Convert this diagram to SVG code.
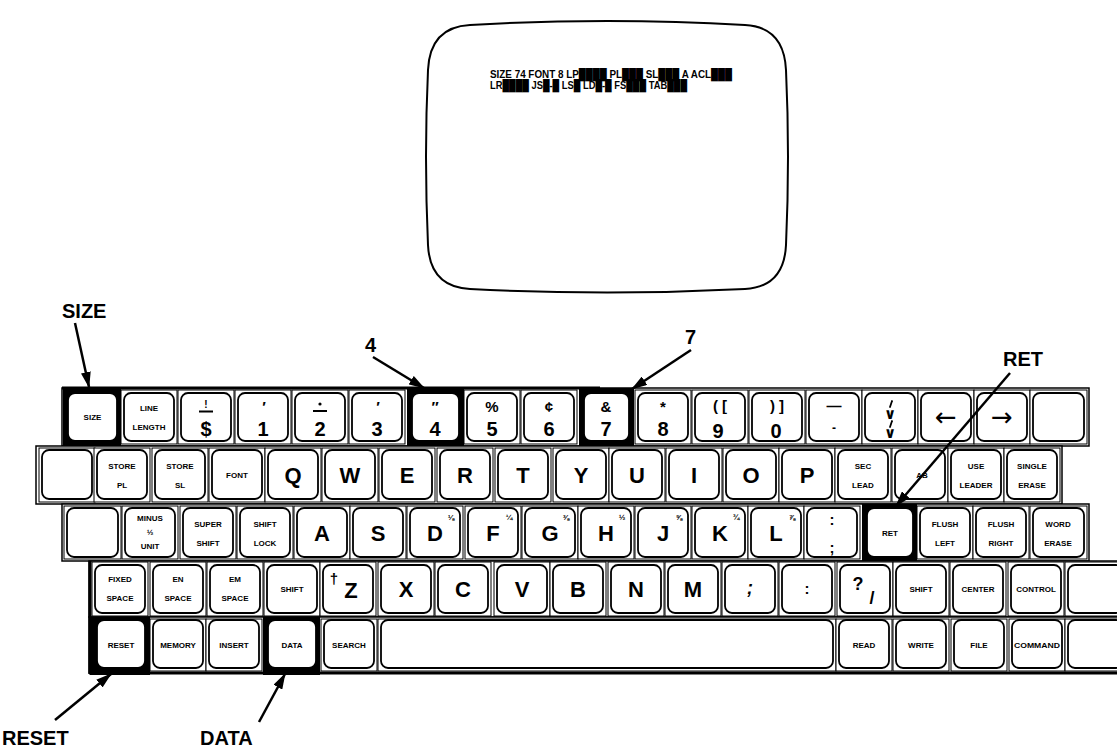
<svg xmlns="http://www.w3.org/2000/svg" width="1117" height="751" viewBox="0 0 1117 751">
<defs>
<marker id="ah" markerUnits="userSpaceOnUse" markerWidth="16" markerHeight="10" refX="15" refY="5" orient="auto"><path d="M0,0 L16,5 L0,10 Z" fill="#000"/></marker>
<style>
.w{fill:#fff;stroke:#000;stroke-width:1}
.c{fill:#fff;stroke:#000;stroke-width:1.8}
.k{fill:#000}
.band{fill:#fff;stroke:#000;stroke-width:1.5}
.t{font-family:"Liberation Sans","DejaVu Sans",sans-serif;font-weight:bold;text-anchor:middle;fill:#000}
.s{font-size:8px}
.L{font-size:22px}
.D{font-size:20px}
.m{font-size:15px}
.f{font-size:8px}
.ar{font-family:"DejaVu Sans",sans-serif;font-size:26px;text-anchor:middle;fill:#000}
.ann{font-family:"Liberation Sans",Arial,sans-serif;font-weight:bold;font-size:20px;fill:#000}
.lead{stroke:#000;stroke-width:2.5;fill:none;marker-end:url(#ah)}
.scr{font-family:"Liberation Sans","DejaVu Sans",sans-serif;font-weight:bold;font-size:11px;fill:#000}
.tick{stroke:#000;stroke-width:1.8;stroke-linecap:round}
</style>
</defs>
<rect x="0" y="0" width="1117" height="751" fill="#fff"/>

<g id="screen">
<path d="M470,25 Q607,17 745,25 Q784,27 786,70 Q790,156 786,245 Q784,287 745,289 Q607,296 470,289 Q430,287 428,245 Q424,156 428,70 Q430,27 470,25 Z" fill="#fff" stroke="#000" stroke-width="2"/>
<text class="scr" x="490" y="78" textLength="242" lengthAdjust="spacingAndGlyphs">SIZE 74 FONT 8 LP████ PL███ SL███ A ACL███</text>
<text class="scr" x="490" y="89" textLength="197" lengthAdjust="spacingAndGlyphs">LR████ JS█-█ LS█ LD█-█ FS███ TAB███</text>
</g>

<g id="bands">
<rect class="band" x="62" y="388" width="1027" height="58"/>
<line x1="62" y1="388" x2="600" y2="388" stroke="#000" stroke-width="3"/>
<rect class="band" x="36" y="446" width="1026" height="58"/>
<rect class="band" x="62" y="504" width="1027" height="57"/>
<rect class="band" x="89" y="561" width="1040" height="56"/>
<rect class="band" x="89" y="617" width="1040" height="56"/>
<line x1="89" y1="673" x2="1117" y2="673" stroke="#000" stroke-width="3"/>
<line x1="90" y1="561" x2="90" y2="674" stroke="#000" stroke-width="3"/>
</g>

<!-- Row 1 -->
<g id="k-size"><rect class="k" x="63" y="388" width="58" height="58"/><rect class="c" x="68" y="393" width="49" height="48" rx="7"/><text class="t s" x="92.5" y="420">SIZE</text></g>
<g id="k-linelength"><rect class="w" x="121" y="390" width="56" height="54"/><rect class="c" x="124" y="393" width="50" height="48" rx="7"/><text class="t s" x="149" y="411">LINE</text><text class="t s" x="149" y="430">LENGTH</text></g>
<g id="k-dollar"><rect class="w" x="178" y="390" width="56" height="54"/><rect class="c" x="181" y="393" width="50" height="48" rx="7"/><text class="t" style="font-size:10px" x="206" y="408">!</text><line x1="199" y1="411.5" x2="213" y2="411.5" stroke="#000" stroke-width="2"/><text class="t D" x="206" y="436">$</text></g>
<g id="k-1"><rect class="w" x="235" y="390" width="56" height="54"/><rect class="c" x="238" y="393" width="50" height="48" rx="7"/><text class="t m" x="264" y="412">′</text><text class="t D" x="263" y="436">1</text></g>
<g id="k-2"><rect class="w" x="292" y="390" width="56" height="54"/><rect class="c" x="295" y="393" width="50" height="48" rx="7"/><circle cx="320" cy="404" r="1.6" fill="#000"/><line x1="313" y1="411" x2="327" y2="411" stroke="#000" stroke-width="2"/><text class="t D" x="320" y="436">2</text></g>
<g id="k-3"><rect class="w" x="349" y="390" width="56" height="54"/><rect class="c" x="352" y="393" width="50" height="48" rx="7"/><text class="t m" x="378" y="412">′</text><text class="t D" x="377" y="436">3</text></g>
<g id="k-4"><rect class="k" x="407" y="388" width="57" height="58"/><rect class="c" x="412" y="393" width="47" height="48" rx="7"/><text class="t m" x="435" y="412">″</text><text class="t D" x="435" y="436">4</text></g>
<g id="k-5"><rect class="w" x="464" y="390" width="56" height="54"/><rect class="c" x="467" y="393" width="50" height="48" rx="7"/><text class="t m" x="492" y="412">%</text><text class="t D" x="492" y="436">5</text></g>
<g id="k-6"><rect class="w" x="521" y="390" width="56" height="54"/><rect class="c" x="524" y="393" width="50" height="48" rx="7"/><text class="t m" x="549" y="412">¢</text><text class="t D" x="549" y="436">6</text></g>
<g id="k-7"><rect class="k" x="579" y="388" width="55" height="58"/><rect class="c" x="584" y="393" width="45" height="48" rx="7"/><text class="t m" x="606" y="412">&amp;</text><text class="t D" x="606" y="436">7</text></g>
<g id="k-8"><rect class="w" x="635" y="390" width="56" height="54"/><rect class="c" x="638" y="393" width="50" height="48" rx="7"/><text class="t m" x="663" y="412">*</text><text class="t D" x="663" y="436">8</text></g>
<g id="k-9"><rect class="w" x="692" y="390" width="56" height="54"/><rect class="c" x="695" y="393" width="50" height="48" rx="7"/><text class="t m" x="720" y="411">( [</text><text class="t D" x="718" y="438">9</text></g>
<g id="k-0"><rect class="w" x="749" y="390" width="56" height="54"/><rect class="c" x="752" y="393" width="50" height="48" rx="7"/><text class="t m" x="777" y="411">) ]</text><text class="t D" x="776" y="438">0</text></g>
<g id="k-minus"><rect class="w" x="806" y="390" width="56" height="54"/><rect class="c" x="809" y="393" width="50" height="48" rx="7"/><text class="t m" x="834" y="411">—</text><text class="t" style="font-size:12px" x="834" y="432">-</text></g>
<g id="k-down"><rect class="w" x="862" y="390" width="56" height="54"/><rect class="c" x="865" y="393" width="50" height="48" rx="7"/><line class="tick" x1="892" y1="401" x2="890" y2="407"/><text class="t m" x="890" y="419">∨</text><line class="tick" x1="892" y1="421" x2="890" y2="427"/><text class="t m" x="890" y="438">∨</text></g>
<g id="k-left"><rect class="w" x="918" y="390" width="56" height="54"/><rect class="c" x="921" y="393" width="50" height="48" rx="7"/><text class="ar" x="946" y="426">←</text></g>
<g id="k-right"><rect class="w" x="974" y="390" width="56" height="54"/><rect class="c" x="977" y="393" width="50" height="48" rx="7"/><text class="ar" x="1002" y="426">→</text></g>
<g id="k-r1blank"><rect class="w" x="1030" y="390" width="57" height="54"/><rect class="c" x="1033" y="393" width="51" height="48" rx="7"/></g>

<!-- Row 2 -->
<g id="k-r2blank"><rect class="w" x="39" y="448" width="56" height="54"/><rect class="c" x="42" y="450" width="50" height="49" rx="7"/></g>
<g id="k-storepl"><rect class="w" x="94" y="448" width="56" height="54"/><rect class="c" x="97" y="450" width="50" height="49" rx="7"/><text class="t s" x="122" y="468.5">STORE</text><text class="t s" x="122" y="488">PL</text></g>
<g id="k-storesl"><rect class="w" x="152" y="448" width="56" height="54"/><rect class="c" x="155" y="450" width="50" height="49" rx="7"/><text class="t s" x="180" y="468.5">STORE</text><text class="t s" x="180" y="488">SL</text></g>
<g id="k-font"><rect class="w" x="209" y="448" width="56" height="54"/><rect class="c" x="212" y="450" width="50" height="49" rx="7"/><text class="t s" x="237" y="477.5">FONT</text></g>
<g id="k-q"><rect class="w" x="265" y="448" width="56" height="54"/><rect class="c" x="268" y="450" width="50" height="49" rx="7"/><text class="t L" x="293" y="482.5">Q</text></g>
<g id="k-w"><rect class="w" x="322" y="448" width="56" height="54"/><rect class="c" x="325" y="450" width="50" height="49" rx="7"/><text class="t L" x="350" y="482.5">W</text></g>
<g id="k-e"><rect class="w" x="379" y="448" width="56" height="54"/><rect class="c" x="382" y="450" width="50" height="49" rx="7"/><text class="t L" x="407" y="482.5">E</text></g>
<g id="k-r"><rect class="w" x="437" y="448" width="56" height="54"/><rect class="c" x="440" y="450" width="50" height="49" rx="7"/><text class="t L" x="465" y="482.5">R</text></g>
<g id="k-t"><rect class="w" x="495" y="448" width="56" height="54"/><rect class="c" x="498" y="450" width="50" height="49" rx="7"/><text class="t L" x="523" y="482.5">T</text></g>
<g id="k-y"><rect class="w" x="553" y="448" width="56" height="54"/><rect class="c" x="556" y="450" width="50" height="49" rx="7"/><text class="t L" x="581" y="482.5">Y</text></g>
<g id="k-u"><rect class="w" x="609" y="448" width="56" height="54"/><rect class="c" x="612" y="450" width="50" height="49" rx="7"/><text class="t L" x="637" y="482.5">U</text></g>
<g id="k-i"><rect class="w" x="666" y="448" width="56" height="54"/><rect class="c" x="669" y="450" width="50" height="49" rx="7"/><text class="t L" x="694" y="482.5">I</text></g>
<g id="k-o"><rect class="w" x="723" y="448" width="56" height="54"/><rect class="c" x="726" y="450" width="50" height="49" rx="7"/><text class="t L" x="751" y="482.5">O</text></g>
<g id="k-p"><rect class="w" x="779" y="448" width="56" height="54"/><rect class="c" x="782" y="450" width="50" height="49" rx="7"/><text class="t L" x="807" y="482.5">P</text></g>
<g id="k-seclead"><rect class="w" x="835" y="448" width="56" height="54"/><rect class="c" x="838" y="450" width="50" height="49" rx="7"/><text class="t s" x="863" y="468.5">SEC</text><text class="t s" x="863" y="488">LEAD</text></g>
<g id="k-tab"><rect class="w" x="892" y="448" width="56" height="54"/><rect class="c" x="895" y="450" width="50" height="49" rx="7"/><text class="t s" x="922" y="477.5">AB</text></g>
<g id="k-useleader"><rect class="w" x="948" y="448" width="56" height="54"/><rect class="c" x="951" y="450" width="50" height="49" rx="7"/><text class="t s" x="976" y="468.5">USE</text><text class="t s" x="976" y="488">LEADER</text></g>
<g id="k-singleerase"><rect class="w" x="1004" y="448" width="56" height="54"/><rect class="c" x="1007" y="450" width="50" height="49" rx="7"/><text class="t s" x="1032" y="468.5">SINGLE</text><text class="t s" x="1032" y="488">ERASE</text></g>

<!-- Row 3 -->
<g id="k-r3blank"><rect class="w" x="64" y="506" width="57" height="53"/><rect class="c" x="67" y="508" width="51" height="49" rx="7"/></g>
<g id="k-minushalf"><rect class="w" x="122" y="506" width="56" height="53"/><rect class="c" x="125" y="508" width="50" height="49" rx="7"/><text class="t s" x="150" y="521">MINUS</text><text class="t s" x="150" y="535">½</text><text class="t s" x="150" y="549">UNIT</text></g>
<g id="k-supershift"><rect class="w" x="180" y="506" width="56" height="53"/><rect class="c" x="183" y="508" width="50" height="49" rx="7"/><text class="t s" x="208" y="527">SUPER</text><text class="t s" x="208" y="546">SHIFT</text></g>
<g id="k-shiftlock"><rect class="w" x="237" y="506" width="56" height="53"/><rect class="c" x="240" y="508" width="50" height="49" rx="7"/><text class="t s" x="265" y="527">SHIFT</text><text class="t s" x="265" y="546">LOCK</text></g>
<g id="k-a"><rect class="w" x="294" y="506" width="56" height="53"/><rect class="c" x="297" y="508" width="50" height="49" rx="7"/><text class="t L" x="322" y="540.5">A</text></g>
<g id="k-s"><rect class="w" x="350" y="506" width="56" height="53"/><rect class="c" x="353" y="508" width="50" height="49" rx="7"/><text class="t L" x="378" y="540.5">S</text></g>
<g id="k-d"><rect class="w" x="407" y="506" width="56" height="53"/><rect class="c" x="410" y="508" width="50" height="49" rx="7"/><text class="t L" x="435" y="540.5">D</text><text class="t f" x="451" y="520">⅛</text></g>
<g id="k-f"><rect class="w" x="465" y="506" width="56" height="53"/><rect class="c" x="468" y="508" width="50" height="49" rx="7"/><text class="t L" x="493" y="540.5">F</text><text class="t f" x="509" y="520">¼</text></g>
<g id="k-g"><rect class="w" x="522" y="506" width="56" height="53"/><rect class="c" x="525" y="508" width="50" height="49" rx="7"/><text class="t L" x="550" y="540.5">G</text><text class="t f" x="566" y="520">⅜</text></g>
<g id="k-h"><rect class="w" x="578" y="506" width="56" height="53"/><rect class="c" x="581" y="508" width="50" height="49" rx="7"/><text class="t L" x="606" y="540.5">H</text><text class="t f" x="622" y="520">½</text></g>
<g id="k-j"><rect class="w" x="635" y="506" width="56" height="53"/><rect class="c" x="638" y="508" width="50" height="49" rx="7"/><text class="t L" x="663" y="540.5">J</text><text class="t f" x="679" y="520">⅝</text></g>
<g id="k-k"><rect class="w" x="692" y="506" width="56" height="53"/><rect class="c" x="695" y="508" width="50" height="49" rx="7"/><text class="t L" x="720" y="540.5">K</text><text class="t f" x="736" y="520">¾</text></g>
<g id="k-l"><rect class="w" x="748" y="506" width="56" height="53"/><rect class="c" x="751" y="508" width="50" height="49" rx="7"/><text class="t L" x="776" y="540.5">L</text><text class="t f" x="792" y="520">⅞</text></g>
<g id="k-colon"><rect class="w" x="804" y="506" width="56" height="53"/><rect class="c" x="807" y="508" width="50" height="49" rx="7"/><text class="t m" x="832" y="525">:</text><text class="t m" x="832" y="553">;</text></g>
<g id="k-ret"><rect class="k" x="862" y="504" width="55" height="57"/><rect class="c" x="867" y="508" width="46" height="49" rx="7"/><text class="t s" x="890" y="535.5">RET</text></g>
<g id="k-flushleft"><rect class="w" x="917" y="506" width="56" height="53"/><rect class="c" x="920" y="508" width="50" height="49" rx="7"/><text class="t s" x="945" y="527">FLUSH</text><text class="t s" x="945" y="546">LEFT</text></g>
<g id="k-flushright"><rect class="w" x="973" y="506" width="56" height="53"/><rect class="c" x="976" y="508" width="50" height="49" rx="7"/><text class="t s" x="1001" y="527">FLUSH</text><text class="t s" x="1001" y="546">RIGHT</text></g>
<g id="k-worderase"><rect class="w" x="1030" y="506" width="57" height="53"/><rect class="c" x="1033" y="508" width="51" height="49" rx="7"/><text class="t s" x="1058" y="527">WORD</text><text class="t s" x="1058" y="546">ERASE</text></g>

<!-- Row 4 -->
<g id="k-fixedspace"><rect class="w" x="92" y="562" width="56" height="54"/><rect class="c" x="95" y="565" width="50" height="48" rx="7"/><text class="t s" x="120" y="582">FIXED</text><text class="t s" x="120" y="601">SPACE</text></g>
<g id="k-enspace"><rect class="w" x="150" y="562" width="56" height="54"/><rect class="c" x="153" y="565" width="50" height="48" rx="7"/><text class="t s" x="178" y="582">EN</text><text class="t s" x="178" y="601">SPACE</text></g>
<g id="k-emspace"><rect class="w" x="207" y="562" width="56" height="54"/><rect class="c" x="210" y="565" width="50" height="48" rx="7"/><text class="t s" x="235" y="582">EM</text><text class="t s" x="235" y="601">SPACE</text></g>
<g id="k-shiftl"><rect class="w" x="264" y="562" width="56" height="54"/><rect class="c" x="267" y="565" width="50" height="48" rx="7"/><text class="t s" x="292" y="592">SHIFT</text></g>
<g id="k-z"><rect class="w" x="320" y="562" width="56" height="54"/><rect class="c" x="323" y="565" width="50" height="48" rx="7"/><text class="t m" x="334" y="584">†</text><text class="t L" x="351" y="598">Z</text></g>
<g id="k-x"><rect class="w" x="378" y="562" width="56" height="54"/><rect class="c" x="381" y="565" width="50" height="48" rx="7"/><text class="t L" x="406" y="597">X</text></g>
<g id="k-c"><rect class="w" x="435" y="562" width="56" height="54"/><rect class="c" x="438" y="565" width="50" height="48" rx="7"/><text class="t L" x="463" y="597">C</text></g>
<g id="k-v"><rect class="w" x="494" y="562" width="56" height="54"/><rect class="c" x="497" y="565" width="50" height="48" rx="7"/><text class="t L" x="522" y="597">V</text></g>
<g id="k-b"><rect class="w" x="550" y="562" width="56" height="54"/><rect class="c" x="553" y="565" width="50" height="48" rx="7"/><text class="t L" x="578" y="597">B</text></g>
<g id="k-n"><rect class="w" x="608" y="562" width="56" height="54"/><rect class="c" x="611" y="565" width="50" height="48" rx="7"/><text class="t L" x="636" y="597">N</text></g>
<g id="k-m"><rect class="w" x="665" y="562" width="56" height="54"/><rect class="c" x="668" y="565" width="50" height="48" rx="7"/><text class="t L" x="693" y="597">M</text></g>
<g id="k-semi"><rect class="w" x="722" y="562" width="56" height="54"/><rect class="c" x="725" y="565" width="50" height="48" rx="7"/><text class="t" style="font-size:18px;font-style:italic" x="750" y="594">;</text></g>
<g id="k-colon2"><rect class="w" x="779" y="562" width="56" height="54"/><rect class="c" x="782" y="565" width="50" height="48" rx="7"/><text class="t m" x="807" y="594">:</text></g>
<g id="k-question"><rect class="w" x="837" y="562" width="56" height="54"/><rect class="c" x="840" y="565" width="50" height="48" rx="7"/><text class="t" style="font-size:18px" x="858" y="590">?</text><text class="t" style="font-size:18px" x="872" y="604">/</text></g>
<g id="k-shiftr"><rect class="w" x="893" y="562" width="56" height="54"/><rect class="c" x="896" y="565" width="50" height="48" rx="7"/><text class="t s" x="921" y="592">SHIFT</text></g>
<g id="k-center"><rect class="w" x="950" y="562" width="56" height="54"/><rect class="c" x="953" y="565" width="50" height="48" rx="7"/><text class="t s" x="978" y="592">CENTER</text></g>
<g id="k-control"><rect class="w" x="1008" y="562" width="56" height="54"/><rect class="c" x="1011" y="565" width="50" height="48" rx="7"/><text class="t s" x="1036" y="592">CONTROL</text></g>
<g id="k-r4blank"><rect class="w" x="1065" y="562" width="60" height="54"/><rect class="c" x="1068" y="565" width="55" height="48" rx="7"/></g>

<!-- Row 5 -->
<g id="k-reset"><rect class="k" x="90" y="617" width="60" height="58"/><rect class="c" x="97" y="620" width="48" height="48" rx="7"/><text class="t s" x="121" y="647.5">RESET</text></g>
<g id="k-memory"><rect class="w" x="150" y="619" width="56" height="52"/><rect class="c" x="153" y="620" width="50" height="48" rx="7"/><text class="t s" x="178" y="647.5">MEMORY</text></g>
<g id="k-insert"><rect class="w" x="206" y="619" width="56" height="52"/><rect class="c" x="209" y="620" width="50" height="48" rx="7"/><text class="t s" x="234" y="647.5">INSERT</text></g>
<g id="k-data"><rect class="k" x="263" y="617" width="57" height="58"/><rect class="c" x="268" y="620" width="48" height="48" rx="7"/><text class="t s" x="292" y="647.5">DATA</text></g>
<g id="k-search"><rect class="w" x="321" y="619" width="56" height="52"/><rect class="c" x="324" y="620" width="50" height="48" rx="7"/><text class="t s" x="349" y="647.5">SEARCH</text></g>
<g id="k-space"><rect class="w" x="378" y="619" width="458" height="52"/><rect class="c" x="381" y="620" width="452" height="48" rx="7"/></g>
<g id="k-read"><rect class="w" x="836" y="619" width="56" height="52"/><rect class="c" x="839" y="620" width="50" height="48" rx="7"/><text class="t s" x="864" y="647.5">READ</text></g>
<g id="k-write"><rect class="w" x="893" y="619" width="56" height="52"/><rect class="c" x="896" y="620" width="50" height="48" rx="7"/><text class="t s" x="921" y="647.5">WRITE</text></g>
<g id="k-file"><rect class="w" x="951" y="619" width="56" height="52"/><rect class="c" x="954" y="620" width="50" height="48" rx="7"/><text class="t s" x="979" y="647.5">FILE</text></g>
<g id="k-command"><rect class="w" x="1009" y="619" width="56" height="52"/><rect class="c" x="1012" y="620" width="50" height="48" rx="7"/><text class="t s" x="1037" y="647.5" textLength="46" lengthAdjust="spacingAndGlyphs">COMMAND</text></g>
<g id="k-r5blank"><rect class="w" x="1065" y="619" width="60" height="52"/><rect class="c" x="1068" y="620" width="55" height="48" rx="7"/></g>

<g id="labels">
<text class="ann" x="62" y="318">SIZE</text>
<text class="ann" x="365" y="352">4</text>
<text class="ann" x="685" y="344">7</text>
<text class="ann" x="1003" y="366">RET</text>
<text class="ann" x="2" y="745">RESET</text>
<text class="ann" x="200" y="745">DATA</text>
</g>

<g id="connectors">
<line class="lead" x1="75" y1="323" x2="89" y2="387"/>
<line class="lead" x1="373" y1="357" x2="424" y2="388"/>
<line class="lead" x1="691" y1="350" x2="632" y2="389"/>
<line class="lead" x1="1010" y1="373" x2="896" y2="506"/>
<line class="lead" x1="55" y1="720" x2="111" y2="674"/>
<line class="lead" x1="259" y1="722" x2="285" y2="674"/>
</g>
</svg>
